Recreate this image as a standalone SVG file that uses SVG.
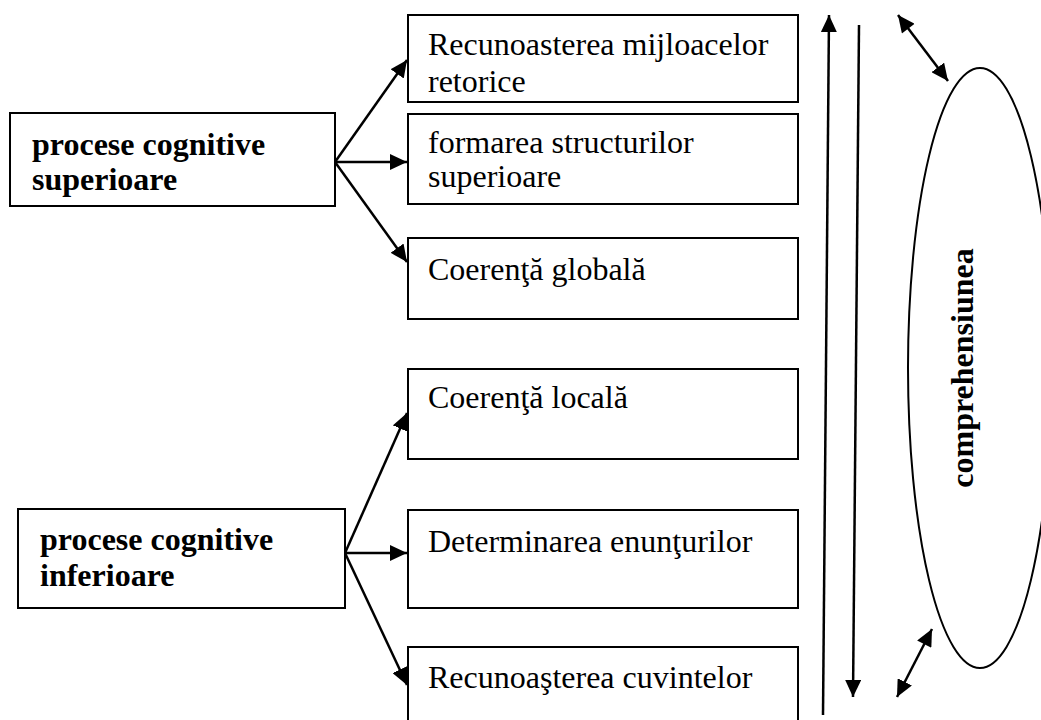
<svg xmlns="http://www.w3.org/2000/svg" width="1041" height="720" viewBox="0 0 1041 720">
  <style>
    .box { fill: #fff; stroke: #000; stroke-width: 2; }
    .lbl { font-family: "Liberation Serif", "Times New Roman", serif; font-size: 32px; fill: #000; }
    .bold { font-weight: bold; }
    .edge { stroke: #000; stroke-width: 2.5; fill: none; }
  </style>
  <defs>
    <marker id="head" markerUnits="userSpaceOnUse" markerWidth="18" markerHeight="16" refX="17" refY="8" orient="auto">
      <path d="M0,0 L17,8 L0,16 z" fill="#000"/>
    </marker>
    <marker id="tail" markerUnits="userSpaceOnUse" markerWidth="18" markerHeight="16" refX="0" refY="8" orient="auto">
      <path d="M17,0 L0,8 L17,16 z" fill="#000"/>
    </marker>
  </defs>
  <rect width="1041" height="720" fill="#fff"/>

  <g id="connectors">
    <line class="edge" x1="335" y1="162" x2="407" y2="60" marker-end="url(#head)"/>
    <line class="edge" x1="335" y1="162" x2="407" y2="162" marker-end="url(#head)"/>
    <line class="edge" x1="335" y1="162" x2="407" y2="262" marker-end="url(#head)"/>
    <line class="edge" x1="345" y1="553" x2="407" y2="413" marker-end="url(#head)"/>
    <line class="edge" x1="345" y1="553" x2="407" y2="553" marker-end="url(#head)"/>
    <line class="edge" x1="345" y1="553" x2="407" y2="685" marker-end="url(#head)"/>
    <line class="edge" x1="823" y1="715" x2="829" y2="15" marker-end="url(#head)"/>
    <line class="edge" x1="859" y1="25" x2="853" y2="697" marker-end="url(#head)"/>
    <line class="edge" x1="898" y1="15" x2="948" y2="81" marker-start="url(#tail)" marker-end="url(#head)"/>
    <line class="edge" x1="932" y1="629" x2="897" y2="697" marker-start="url(#tail)" marker-end="url(#head)"/>
  </g>

  <g id="superior">
    <rect class="box" x="10" y="113" width="325" height="93"/>
    <text class="lbl bold" x="32" y="155">procese cognitive</text>
    <text class="lbl bold" x="32" y="190">superioare</text>
  </g>
  <g id="inferior">
    <rect class="box" x="18" y="509" width="327" height="99"/>
    <text class="lbl bold" x="40" y="550">procese cognitive</text>
    <text class="lbl bold" x="40" y="586">inferioare</text>
  </g>

  <g id="retorice">
    <rect class="box" x="408" y="15" width="390" height="87"/>
    <text class="lbl" x="428" y="55">Recunoasterea mijloacelor</text>
    <text class="lbl" x="428" y="92">retorice</text>
  </g>
  <g id="structuri">
    <rect class="box" x="408" y="114" width="390" height="90"/>
    <text class="lbl" x="428" y="153">formarea structurilor</text>
    <text class="lbl" x="428" y="187">superioare</text>
  </g>
  <g id="globala">
    <rect class="box" x="408" y="238" width="390" height="81"/>
    <text class="lbl" x="428" y="280">Coerenţă globală</text>
  </g>
  <g id="locala">
    <rect class="box" x="408" y="369" width="390" height="90"/>
    <text class="lbl" x="428" y="408">Coerenţă locală</text>
  </g>
  <g id="enunturi">
    <rect class="box" x="408" y="510" width="390" height="98"/>
    <text class="lbl" x="428" y="552">Determinarea enunţurilor</text>
  </g>
  <g id="cuvinte">
    <rect class="box" x="408" y="647" width="390" height="80"/>
    <text class="lbl" x="428" y="688">Recunoaşterea cuvintelor</text>
  </g>

  <g id="comprehensiunea">
    <ellipse cx="980" cy="368" rx="72" ry="300" fill="none" stroke="#000" stroke-width="2"/>
    <text class="lbl bold" x="0" y="0" text-anchor="middle" transform="translate(973,368) rotate(-90)">comprehensiunea</text>
  </g>
</svg>
